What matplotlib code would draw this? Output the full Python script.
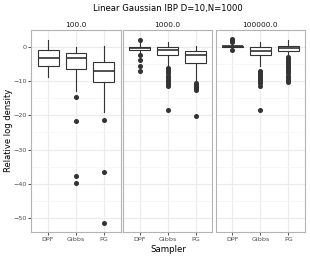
import matplotlib
matplotlib.use("Agg")
import matplotlib.pyplot as plt
from matplotlib.ticker import MultipleLocator

panels = ["100.0", "1000.0", "100000.0"]
samplers = ["DPF", "Gibbs", "PG"]

# per panel, per sampler: whislo, q1, median, q3, whishi
whislo = [[-8.7, -13.0, -19.1], [-2.0, -5.6, -10.0], [-0.5, -5.6, -2.2]]
q1 = [[-5.5, -6.6, -10.4], [-1.0, -2.5, -4.8], [-0.2, -2.5, -1.25]]
med = [[-3.2, -3.4, -7.2], [-0.5, -1.0, -2.4], [0.1, -1.2, -0.3]]
q3 = [[-1.0, -1.8, -4.4], [0.0, -0.2, -1.3], [0.3, 0.0, 0.2]]
whishi = [[1.9, 0.0, 0.2], [1.0, 1.4, 0.3], [0.8, 1.4, 1.9]]
outliers = [
    [[], [-14.7, -21.6, -37.7, -39.9], [-21.4, -36.6, -51.6]],
    [[1.9, -2.5, -3.9, -5.5, -7.1],
     [-6.1, -6.6, -7.2, -7.8, -8.4, -9.0, -9.6, -10.2, -10.8, -11.4, -18.6],
     [-10.7, -11.2, -11.7, -12.1, -12.6, -20.2]],
    [[1.5, 1.9, 2.4, -1.0],
     [-7.0, -7.6, -8.2, -8.8, -9.4, -10.0, -10.6, -11.4, -18.4],
     [-3.0, -3.6, -4.2, -4.8, -5.4, -6.0, -6.6, -7.2, -7.8, -8.4, -9.0, -9.7, -10.4]],
]

W, H = 310, 260
fig = plt.figure(figsize=(W / 100, H / 100), dpi=100)
lefts = [31.3, 123.0, 215.7]
pw = 89.4
top_px, bot_px = 30.0, 231.7
axes = []
for i in range(3):
    ax = fig.add_axes([lefts[i] / W, 1 - bot_px / H, pw / W, (bot_px - top_px) / H])
    axes.append(ax)
    stats = []
    for j in range(3):
        stats.append(dict(whislo=whislo[i][j], q1=q1[i][j], med=med[i][j],
                          q3=q3[i][j], whishi=whishi[i][j], fliers=outliers[i][j]))
    ax.set_axisbelow(True)
    ax.bxp(stats, positions=[1, 2, 3], widths=0.75, showcaps=False, patch_artist=True,
           boxprops=dict(facecolor="white", edgecolor="#333333", linewidth=0.8),
           medianprops=dict(color="#333333", linewidth=1.2),
           whiskerprops=dict(color="#333333", linewidth=0.8),
           flierprops=dict(marker="o", markerfacecolor="#333333", markeredgecolor="#333333",
                           markersize=2.6, linestyle="none"))
    ax.set_xlim(0.4, 3.6)
    ax.set_ylim(-54.0, 4.9)
    ax.set_xticks([1, 2, 3])
    ax.set_xticklabels(samplers)
    ax.yaxis.set_major_locator(MultipleLocator(10))
    ax.yaxis.set_minor_locator(MultipleLocator(5))
    ax.grid(True, which="major", color="#ebebeb", linewidth=0.8)
    ax.grid(True, which="minor", axis="y", color="#f3f3f3", linewidth=0.5)
    for s in ax.spines.values():
        s.set_color("#b3b3b3")
        s.set_linewidth(0.8)
    ax.tick_params(axis="both", which="major", length=2, width=0.6, color="#333333",
                   labelsize=4.6, labelcolor="#4d4d4d", pad=1.5)
    ax.tick_params(axis="y", which="minor", length=0)
    if i > 0:
        ax.tick_params(axis="y", labelleft=False, length=0)
    ax.set_title(panels[i], fontsize=5.3, color="#1a1a1a", pad=2.5)

cx = 0.5 * (lefts[0] + lefts[2] + pw) / W
fig.text(9 / W, 1 - 0.5 * (top_px + bot_px) / H, "Relative log density", rotation=90,
         ha="center", va="center", fontsize=6.0)
fig.text(cx, 1 - 249 / H, "Sampler", ha="center", va="center", fontsize=6.2)
fig.text(cx, 1 - 9 / H, "Linear Gaussian IBP D=10,N=1000",
         ha="center", va="center", fontsize=6.1)
fig.savefig("out.png", dpi=100)
